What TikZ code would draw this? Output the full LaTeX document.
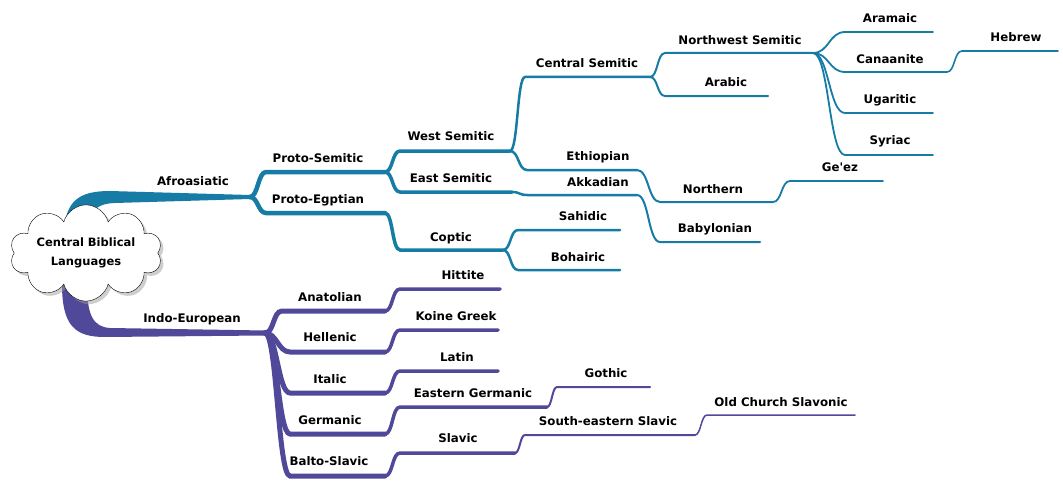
\documentclass[tikz,border=0pt]{standalone}
\usepackage{fontspec}
\setmainfont{DejaVu Sans}[Ligatures=TeXOff]
\usetikzlibrary{shapes.symbols,shadows}
\definecolor{tealb}{RGB}{22,124,166}
\definecolor{purpb}{RGB}{80,72,152}
\begin{document}
\begin{tikzpicture}[x=1pt,y=-1pt,
  lbl/.style={font=\fontsize{11.8}{14}\selectfont\bfseries, inner sep=0pt},
  tb/.style={draw=tealb, line cap=round},
  pb/.style={draw=purpb, line cap=round},
]
\useasboundingbox[fill=white] (0,0) rectangle (1063,487);

% ---------- coordinates (teal) ----------
\coordinate (afroE) at (250,197);
\coordinate (psemS) at (266,172); \coordinate (psemE) at (385,172);
\coordinate (pegyS) at (266,213); \coordinate (pegyE) at (385,213);
\coordinate (wsemS) at (400,151); \coordinate (wsemE) at (510,151);
\coordinate (esemS) at (400,192); \coordinate (esemE) at (512,192);
\coordinate (copS) at (400,250);  \coordinate (copE) at (503,250);
\coordinate (sahS) at (518,230);  \coordinate (sahE) at (620,230);
\coordinate (bohS) at (518,270);  \coordinate (bohE) at (620,270);
\coordinate (csemS) at (525,77);  \coordinate (csemE) at (650,77);
\coordinate (ethS) at (527,170);  \coordinate (ethE) at (637,170);
\coordinate (akkS) at (527,195);  \coordinate (akkE) at (637,195);
\coordinate (nwS) at (665,53);    \coordinate (nwE) at (813,53);
\coordinate (arbS) at (665,96);   \coordinate (arbE) at (768,96);
\coordinate (aramS) at (845,32);  \coordinate (aramE) at (933,32);
\coordinate (canS) at (845,72);   \coordinate (canE) at (947,72);
\coordinate (hebS) at (962,51);   \coordinate (hebE) at (1058,51);
\coordinate (ugaS) at (845,113);  \coordinate (ugaE) at (933,113);
\coordinate (syrS) at (845,155);  \coordinate (syrE) at (933,155);
\coordinate (norS) at (660,202);  \coordinate (norE) at (773,202);
\coordinate (gezS) at (790,181);  \coordinate (gezE) at (883,181);
\coordinate (babS) at (660,242);  \coordinate (babE) at (760,242);
% ---------- coordinates (purple) ----------
\coordinate (indoE) at (265,333);
\coordinate (anaS) at (282,311); \coordinate (anaE) at (385,311);
\coordinate (helS) at (290,352); \coordinate (helE) at (385,352);
\coordinate (itaS) at (290,393); \coordinate (itaE) at (385,393);
\coordinate (gerS) at (290,434); \coordinate (gerE) at (385,434);
\coordinate (balS) at (290,476); \coordinate (balE) at (385,476);
\coordinate (hitS) at (400,289); \coordinate (hitE) at (500,289);
\coordinate (koiS) at (400,330); \coordinate (koiE) at (498,330);
\coordinate (latS) at (400,371); \coordinate (latE) at (498,371);
\coordinate (egS) at (400,407);  \coordinate (egE) at (547,407);
\coordinate (gotS) at (557,387); \coordinate (gotE) at (650,387);
\coordinate (slaS) at (400,453); \coordinate (slaE) at (515,453);
\coordinate (sesS) at (525,435); \coordinate (sesE) at (695,435);
\coordinate (ocsS) at (707,415); \coordinate (ocsE) at (855,415);

% ---------- thick main branches ----------
\fill[tealb] (65,222) .. controls (69,199) and (82,191) .. (110,191) -- (250,195)
  -- (250,199) -- (115,203) .. controls (98,203.5) and (91,210) .. (90,222) -- cycle;
\fill[purpb] (62,284) .. controls (62,326) and (75,337) .. (105,337) -- (265,335.5)
  -- (265,330.5) -- (110,328) .. controls (93,327) and (87,315) .. (87,284) -- cycle;

% ---------- teal branches ----------
\draw[tb,line width=4.5] (afroE) .. controls +(8,0) and +(-8,0) .. (psemS) -- (psemE);
\draw[tb,line width=4.5] (afroE) .. controls +(8,0) and +(-8,0) .. (pegyS) -- (pegyE);
\draw[tb,line width=3.5] (psemE) .. controls +(8,0) and +(-8,0) .. (wsemS) -- (wsemE);
\draw[tb,line width=3.5] (psemE) .. controls +(8,0) and +(-8,0) .. (esemS) -- (esemE);
\draw[tb,line width=3.5] (pegyE) .. controls +(8,0) and +(-8,0) .. (copS) -- (copE);
\draw[tb,line width=2.5] (copE) .. controls +(8,0) and +(-8,0) .. (sahS) -- (sahE);
\draw[tb,line width=2.5] (copE) .. controls +(8,0) and +(-8,0) .. (bohS) -- (bohE);
\draw[tb,line width=2.5] (wsemE) .. controls +(8,0) and +(-8,0) .. (csemS) -- (csemE);
\draw[tb,line width=2.5] (wsemE) .. controls +(9,0) and +(-9,0) .. (ethS) -- (ethE);
\draw[tb,line width=2.5] (esemE) .. controls +(8,0) and +(-8,0) .. (akkS) -- (akkE);
\draw[tb,line width=2] (csemE) .. controls +(8,0) and +(-8,0) .. (nwS) -- (nwE);
\draw[tb,line width=2] (csemE) .. controls +(8,0) and +(-8,0) .. (arbS) -- (arbE);
\draw[tb,line width=1.8] (nwE) .. controls +(16,0) and +(-16,0) .. (aramS) -- (aramE);
\draw[tb,line width=1.8] (nwE) .. controls +(16,0) and +(-16,0) .. (canS) -- (canE);
\draw[tb,line width=1.8] (nwE) .. controls +(16,0) and +(-16,0) .. (ugaS) -- (ugaE);
\draw[tb,line width=1.8] (nwE) .. controls +(16,0) and +(-16,0) .. (syrS) -- (syrE);
\draw[tb,line width=1.6] (canE) .. controls +(8,0) and +(-8,0) .. (hebS) -- (hebE);
\draw[tb,line width=2] (ethE) .. controls +(12,0) and +(-12,0) .. (norS) -- (norE);
\draw[tb,line width=1.8] (norE) .. controls +(9,0) and +(-9,0) .. (gezS) -- (gezE);
\draw[tb,line width=2] (akkE) .. controls +(12,0) and +(-12,0) .. (babS) -- (babE);

% ---------- purple branches ----------
\draw[pb,line width=5] (indoE) .. controls +(9,0) and +(-9,0) .. (anaS) -- (anaE);
\draw[pb,line width=5] (indoE) .. controls +(12,0) and +(-12,0) .. (helS) -- (helE);
\draw[pb,line width=5] (indoE) .. controls +(12,0) and +(-12,0) .. (itaS) -- (itaE);
\draw[pb,line width=5] (indoE) .. controls +(12,0) and +(-12,0) .. (gerS) -- (gerE);
\draw[pb,line width=5] (indoE) .. controls +(12,0) and +(-12,0) .. (balS) -- (balE);
\draw[pb,line width=3.5] (anaE) .. controls +(8,0) and +(-8,0) .. (hitS) -- (hitE);
\draw[pb,line width=3.5] (helE) .. controls +(8,0) and +(-8,0) .. (koiS) -- (koiE);
\draw[pb,line width=3.5] (itaE) .. controls +(8,0) and +(-8,0) .. (latS) -- (latE);
\draw[pb,line width=3.5] (gerE) .. controls +(8,0) and +(-8,0) .. (egS) -- (egE);
\draw[pb,line width=3.5] (balE) .. controls +(8,0) and +(-8,0) .. (slaS) -- (slaE);
\draw[pb,line width=2] (egE) .. controls +(5,0) and +(-5,0) .. (gotS) -- (gotE);
\draw[pb,line width=2] (slaE) .. controls +(5,0) and +(-5,0) .. (sesS) -- (sesE);
\draw[pb,line width=1.5] (sesE) .. controls +(6,0) and +(-6,0) .. (ocsS) -- (ocsE);

% ---------- root ----------
\node[cloud, cloud puffs=10, aspect=2.1, draw=black, fill=white,
  drop shadow={shadow xshift=3pt, shadow yshift=-3pt, fill=gray!75},
  minimum width=152pt, minimum height=72pt, align=center, inner sep=0pt,
  font=\fontsize{11.5}{19}\selectfont\bfseries] (root) at (86,253) {Central Biblical\\Languages};

% ---------- labels ----------
\node[lbl] (afro) at (193,181) {Afroasiatic};
\node[lbl] (psem) at (318,158) {Proto-Semitic};
\node[lbl] (pegy) at (318,200) {Proto-Egptian};
\node[lbl] (wsem) at (451,136) {West Semitic};
\node[lbl] (esem) at (451,178) {East Semitic};
\node[lbl] (cop) at (451,238) {Coptic};
\node[lbl] (sah) at (583,216) {Sahidic};
\node[lbl] (boh) at (578,257) {Bohairic};
\node[lbl] (csem) at (587,63) {Central Semitic};
\node[lbl] (eth) at (598,157) {Ethiopian};
\node[lbl] (akk) at (598,182) {Akkadian};
\node[lbl] (nw) at (740,40) {Northwest Semitic};
\node[lbl] (arb) at (726,82) {Arabic};
\node[lbl] (aram) at (890,18) {Aramaic};
\node[lbl] (can) at (890,59) {Canaanite};
\node[lbl] (heb) at (1016,37) {Hebrew};
\node[lbl] (uga) at (890,100) {Ugaritic};
\node[lbl] (syr) at (890,141) {Syriac};
\node[lbl] (nor) at (713,189) {Northern};
\node[lbl] (gez) at (840,167) {Ge'ez};
\node[lbl] (bab) at (715,229) {Babylonian};
\node[lbl] (indo) at (192,319) {Indo-European};
\node[lbl] (ana) at (330,297) {Anatolian};
\node[lbl] (hel) at (330,337) {Hellenic};
\node[lbl] (ita) at (330,379) {Italic};
\node[lbl] (ger) at (330,420) {Germanic};
\node[lbl] (bal) at (329,461) {Balto-Slavic};
\node[lbl] (hit) at (463,275) {Hittite};
\node[lbl] (koi) at (456,316) {Koine Greek};
\node[lbl] (lat) at (457,357) {Latin};
\node[lbl] (eg) at (473,393) {Eastern Germanic};
\node[lbl] (got) at (606,373) {Gothic};
\node[lbl] (sla) at (458,438) {Slavic};
\node[lbl] (ses) at (608,421) {South-eastern Slavic};
\node[lbl] (ocs) at (781,402) {Old Church Slavonic};
\end{tikzpicture}
\end{document}
